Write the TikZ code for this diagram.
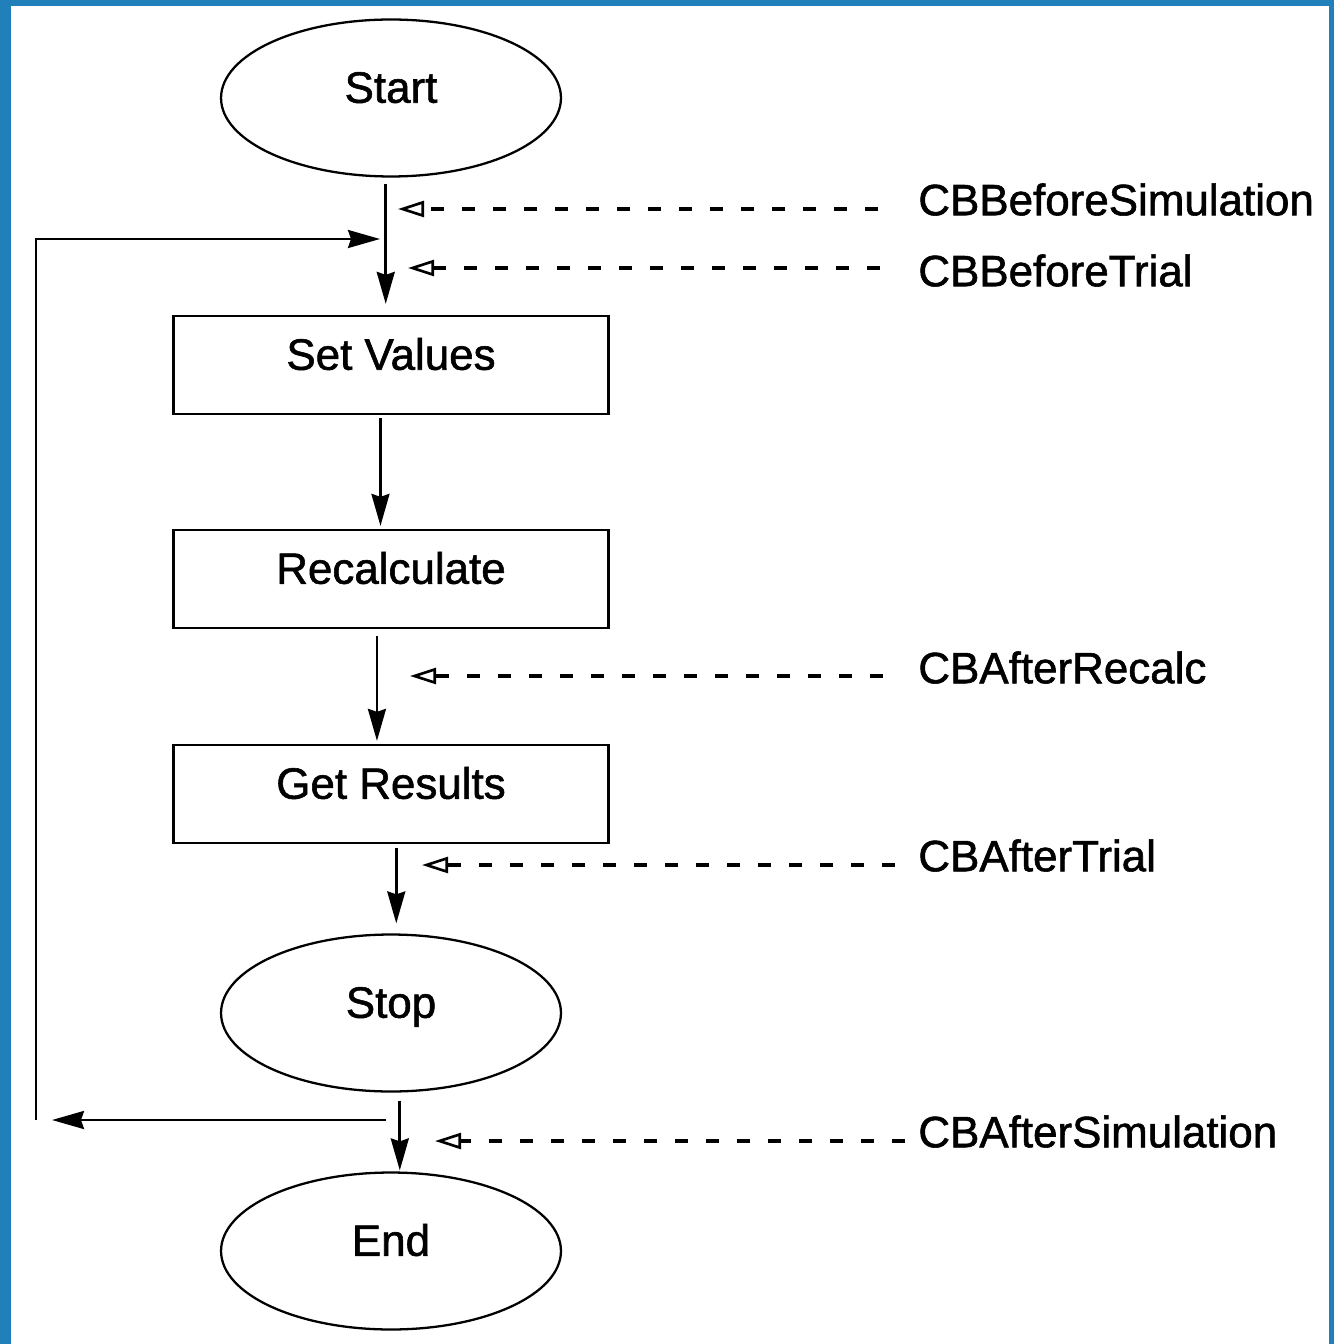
\documentclass[tikz,border=0pt]{standalone}
\usepackage{fontspec}
\setmainfont{Liberation Sans}[BoldFont={Liberation Sans}, BoldFeatures={FakeBold=1.3}]
\usetikzlibrary{shapes.geometric,arrows.meta}
\definecolor{framebg}{RGB}{33,128,185}
\begin{document}
\begin{tikzpicture}[x=0.02cm, y=-0.02cm, >={Stealth[length=0.64cm,width=0.36cm,inset=0.06cm]},
	every node/.style={font=\fontsize{25}{30}\selectfont\bfseries},
	terminal/.style={draw, ellipse, line width=1.3pt, minimum width=6.8cm, minimum height=3.14cm, inner sep=0pt, text height=0.65cm, text depth=0.46cm},
	process/.style={draw, rectangle, line width=1.3pt, minimum width=8.7cm, minimum height=1.96cm, inner sep=0pt, text height=0.65cm, text depth=0.46cm},
	cbname/.style={anchor=west, inner sep=0pt, text height=0.65cm, text depth=0pt},
	flow/.style={->, line width=1.5pt},
	callback/.style={-{Triangle[open,length=0.52cm,width=0.32cm,line width=1.5pt]}, line width=2.8pt, dash pattern=on 0.26cm off 0.36cm}]
	\fill[framebg] (0,0) rectangle (1334,1344);
	\fill[white] (11,6) rectangle (1329,1344);
	\node[terminal] (start) at (391,98) {Start};
	\node[process] (setvalues) at (391,365) {Set Values};
	\node[process] (recalc) at (391,579) {Recalculate};
	\node[process] (results) at (391,794) {Get Results};
	\node[terminal] (stop) at (391,1013) {Stop};
	\node[terminal] (finish) at (391,1251) {End};
	\draw[flow, shorten <=0.12cm, shorten >=0.22cm] ([xshift=-3]start.south) -- ([xshift=-3]setvalues.north);
	\draw[flow, shorten <=0.06cm, shorten >=0.06cm] ([xshift=-6]setvalues.south) -- ([xshift=-6]recalc.north);
	\draw[flow, shorten <=0.14cm, shorten >=0.06cm] ([xshift=-8]recalc.south) -- ([xshift=-8]results.north);
	\draw[flow, shorten <=0.08cm, shorten >=0.2cm] ([xshift=3]results.south) -- ([xshift=3]stop.north);
	\draw[flow, shorten <=0.16cm, shorten >=0.02cm] ([xshift=5]stop.south) -- ([xshift=5]finish.north);
	\coordinate (branch) at (386,1120);
	\coordinate (turn) at (36,1120);
	\coordinate (merge) at (380,239);
	\draw[flow, shorten >=0.32cm] (branch) -- (turn);
	\draw[flow] (turn) |- (merge);
	\coordinate (t1) at (398,209);
	\coordinate (t2) at (408,268);
	\coordinate (t3) at (410,676);
	\coordinate (t4) at (422,865);
	\coordinate (t5) at (435,1141);
	\node[cbname] (cb1) at (918,199) {CBBeforeSimulation};
	\node[cbname] (cb2) at (918,270) {CBBeforeTrial};
	\node[cbname] (cb3) at (918,667) {CBAfterRecalc};
	\node[cbname] (cb4) at (918,855) {CBAfterTrial};
	\node[cbname] (cb5) at (918,1131) {CBAfterSimulation};
	\draw[callback, shorten <=0.8cm] (cb1.west |- t1) -- (t1);
	\draw[callback, shorten <=0.76cm] (cb2.west |- t2) -- (t2);
	\draw[callback, shorten <=0.7cm] (cb3.west |- t3) -- (t3);
	\draw[callback, shorten <=0.46cm] (cb4.west |- t4) -- (t4);
	\draw[callback, shorten <=0.26cm] (cb5.west |- t5) -- (t5);
\end{tikzpicture}
\end{document}
